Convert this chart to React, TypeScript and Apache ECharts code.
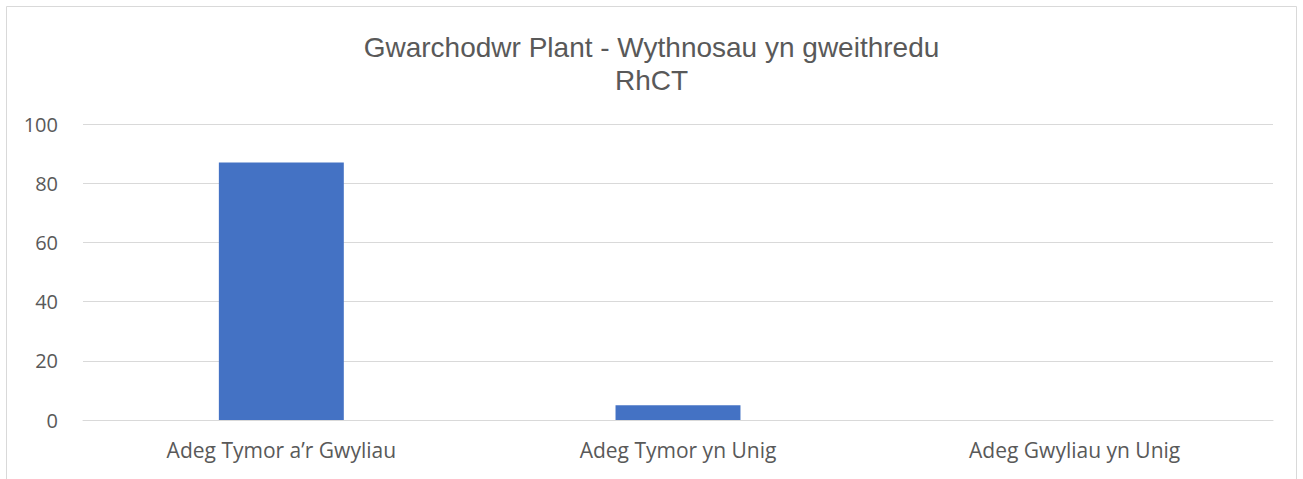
import React, { useEffect, useRef } from "react";
import * as echarts from "echarts";

const titleLines = ["Gwarchodwr Plant - Wythnosau yn gweithredu", "RhCT"];
const categories = ["Adeg Tymor a\u2019r Gwyliau", "Adeg Tymor yn Unig", "Adeg Gwyliau yn Unig"];
const values = [87, 5, 0];
const yMin = 0;
const yMax = 100;
const yInterval = 20;

export default function App() {
  const ref = useRef<HTMLDivElement>(null);
  useEffect(() => {
    document.body.style.margin = "0";
    if (!ref.current) return;
    const chart = echarts.init(ref.current, null, { renderer: "svg" });
    chart.setOption({
      animation: false,
      backgroundColor: "#ffffff",
      title: {
        text: titleLines.join("\n"),
        left: "center",
        top: 26,
        textStyle: {
          fontFamily: "Liberation Sans",
          fontSize: 28,
          fontWeight: "normal",
          color: "#595959",
          lineHeight: 33,
        },
      },
      graphic: [
        {
          type: "rect",
          shape: { x: 6.5, y: 6.5, width: 1290, height: 500 },
          style: { fill: "none", stroke: "#d9d9d9", lineWidth: 1 },
          silent: true,
          z: -1,
        },
      ],
      grid: { left: 83, right: 30, top: 124, bottom: 59, containLabel: false },
      xAxis: {
        type: "category",
        data: categories,
        axisLine: { show: true, lineStyle: { color: "#d9d9d9", width: 1 } },
        axisTick: { show: false },
        axisLabel: {
          color: "#595959",
          fontFamily: "Open Sans",
          fontSize: 21,
          margin: 19,
        },
      },
      yAxis: {
        type: "value",
        min: yMin,
        max: yMax,
        interval: yInterval,
        axisLine: { show: false },
        axisTick: { show: false },
        splitLine: { lineStyle: { color: "#d9d9d9", width: 1 } },
        axisLabel: {
          color: "#595959",
          fontFamily: "Open Sans",
          fontSize: 20,
          margin: 25,
        },
      },
      series: [
        {
          type: "bar",
          data: values,
          barWidth: "31.5%",
          itemStyle: { color: "#4472c4" },
        },
      ],
    });
    return () => chart.dispose();
  }, []);
  return <div ref={ref} style={{ width: 1303, height: 479 }} />;
}
